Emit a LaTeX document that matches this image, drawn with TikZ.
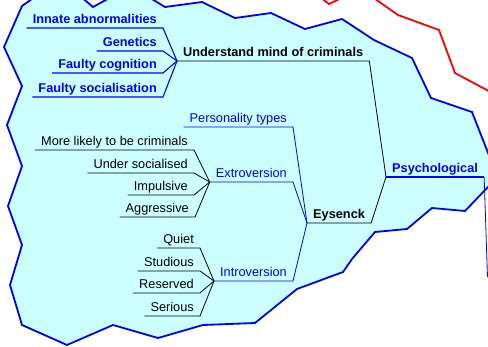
\documentclass[tikz,border=0pt]{standalone}
\usepackage{fontspec}
\setmainfont{Liberation Sans}
\definecolor{fillc}{HTML}{CCFFFF}
\definecolor{bl}{HTML}{0000FF}
\definecolor{rd}{HTML}{FF0000}
\begin{document}
\begin{tikzpicture}[x=1pt,y=-1pt,
  base/.style={inner xsep=6pt, inner ysep=4.5pt, text depth=0pt, font=\fontsize{12.75}{15}\selectfont},
  bleaf/.style={base, anchor=south east, text=bl, font=\fontsize{12.75}{15}\selectfont\bfseries},
  kleaf/.style={base, anchor=south east, text=black},
  bnorm/.style={base, anchor=south east, text=bl},
  bconn/.style={draw=bl, line width=1.1pt},
  tconn/.style={draw=bl, line width=0.8pt},
  kconn/.style={draw=black, line width=0.8pt},
  boundary/.style={draw=bl, line width=1.8pt, fill=fillc, line join=miter},
  redline/.style={draw=rd, line width=1.8pt}
]
\useasboundingbox (0,0) rectangle (488,346);
\clip (0,0) rectangle (488,346);
\fill[white] (0,0) rectangle (488,346);
% red outline
\draw[redline] (316,-6) -- (329,4) -- (350,-6) -- (368,-6) -- (398,15) -- (439,30) -- (455,73) -- (498,96);
% blue region
\draw[boundary] (22,6) -- (36,-4) -- (80,-4) -- (93,7) -- (113,-4) -- (147,-4) -- (165,7) -- (202,2) -- (235,18) -- (271,13) -- (305,29) -- (342,19) -- (374,40) -- (412,58) -- (431,98) -- (472,112) -- (494,168) -- (494,182) -- (487,188) -- (465,211) -- (432,208) -- (407,229) -- (375,232) -- (352,259) -- (343,272) -- (297,289) -- (255,323) -- (203,325) -- (158,338) -- (113,325) -- (67,345) -- (22,325) -- (10,285) -- (22,245) -- (8,206) -- (22,166) -- (7,125) -- (22,86) -- (4,47) -- cycle;

% main nodes
\node[base, anchor=south west, font=\fontsize{12.75}{15}\selectfont\bfseries] (und) at (177,61) {Understand mind of criminals};
\node[base, anchor=south west, text=bl, font=\fontsize{12.75}{15}\selectfont\bfseries] (psy) at (386,177) {Psychological};
\node[base, anchor=south west, font=\fontsize{12.75}{15}\selectfont\bfseries] (eys) at (307,223) {Eysenck};
\coordinate (psyend) at (487.5,277);

% left bold children
\node[bleaf] (ia) at (163,28) {Innate abnormalities};
\node[bleaf] (ge) at (163,51) {Genetics};
\node[bleaf] (fc) at (163,73) {Faulty cognition};
\node[bleaf] (fs) at (163,97) {Faulty socialisation};

% Eysenck children
\node[bnorm] (pt) at (293,127) {Personality types};
\node[bnorm] (ex) at (293,182) {Extroversion};
\node[bnorm] (in) at (293,281) {Introversion};

% Extroversion children
\node[kleaf] (ml) at (194,150) {More likely to be criminals};
\node[kleaf] (us) at (194,173) {Under socialised};
\node[kleaf] (im) at (194,195) {Impulsive};
\node[kleaf] (ag) at (195,217) {Aggressive};

% Introversion children
\node[kleaf] (qu) at (200,248) {Quiet};
\node[kleaf] (st) at (200,271) {Studious};
\node[kleaf] (re) at (200,293) {Reserved};
\node[kleaf] (se) at (200,316) {Serious};

% connectors
\draw[bconn] (psy.south west) -- (psy.south east);
\draw[tconn] (psy.south east) -- (psyend);
\draw[kconn] (und.south west) -- (und.south east) -- (psy.south west);
\draw[kconn] (eys.south west) -- (eys.south east) -- (psy.south west);

\foreach \n in {ia,ge,fc,fs}
  \draw[bconn] (\n.south west) -- (\n.south east) -- (und.south west);
\foreach \n in {pt,ex,in}
  \draw[tconn] (\n.south west) -- (\n.south east) -- (eys.south west);
\foreach \n in {ml,us,im,ag}
  \draw[kconn] (\n.south west) -- (\n.south east) -- (ex.south west);
\foreach \n in {qu,st,re,se}
  \draw[kconn] (\n.south west) -- (\n.south east) -- (in.south west);
\end{tikzpicture}
\end{document}
